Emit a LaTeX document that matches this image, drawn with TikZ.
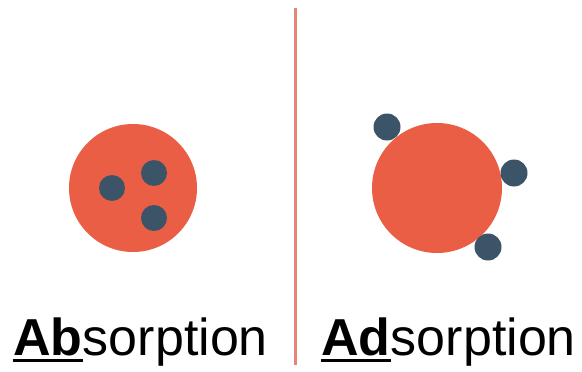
\documentclass[tikz,border=0pt]{standalone}
\usepackage{fontspec}
\setmainfont{Liberation Sans}
\usetikzlibrary{calc}
\definecolor{ball}{HTML}{E95E45}
\definecolor{dot}{HTML}{3C5467}
\definecolor{divider}{HTML}{E88479}
\begin{document}
\begin{tikzpicture}[x=1pt,y=-1pt,
  bigball/.style={fill=ball, draw=none},
  smalldot/.style={fill=dot, draw=none},
  lbl/.style={inner sep=0pt, anchor=base west, font=\fontsize{52}{62}\selectfont},
  uline/.style={line width=3pt}]
\useasboundingbox (0,0) rectangle (582,372);
% divider
\draw[divider, line width=3pt] (295,8) coordinate (dtop) -- (295,365) coordinate (dbot);
% left: absorption
\fill[bigball] (133,188) circle (64);
\fill[smalldot] (112,188) circle (13);
\fill[smalldot] (154,173) circle (13);
\fill[smalldot] (154,218) circle (13);
% right: adsorption
\fill[bigball] (437,188) circle (65);
\fill[smalldot] (387,127) circle (13.5);
\fill[smalldot] (514,173) circle (13.5);
\fill[smalldot] (488,247) circle (13.5);
% labels
\node[lbl] (ab) at (13,355) {\textbf{Ab}};
\node[lbl] (absrest) at (ab.base east) {sorption};
\draw[uline] ($(ab.base west)+(0,5)$) -- ($(ab.base east)+(0,5)$);
\node[lbl] (ad) at (321,355) {\textbf{Ad}};
\node[lbl] (adsrest) at (ad.base east) {sorption};
\draw[uline] ($(ad.base west)+(0,5)$) -- ($(ad.base east)+(0,5)$);
\end{tikzpicture}
\end{document}
